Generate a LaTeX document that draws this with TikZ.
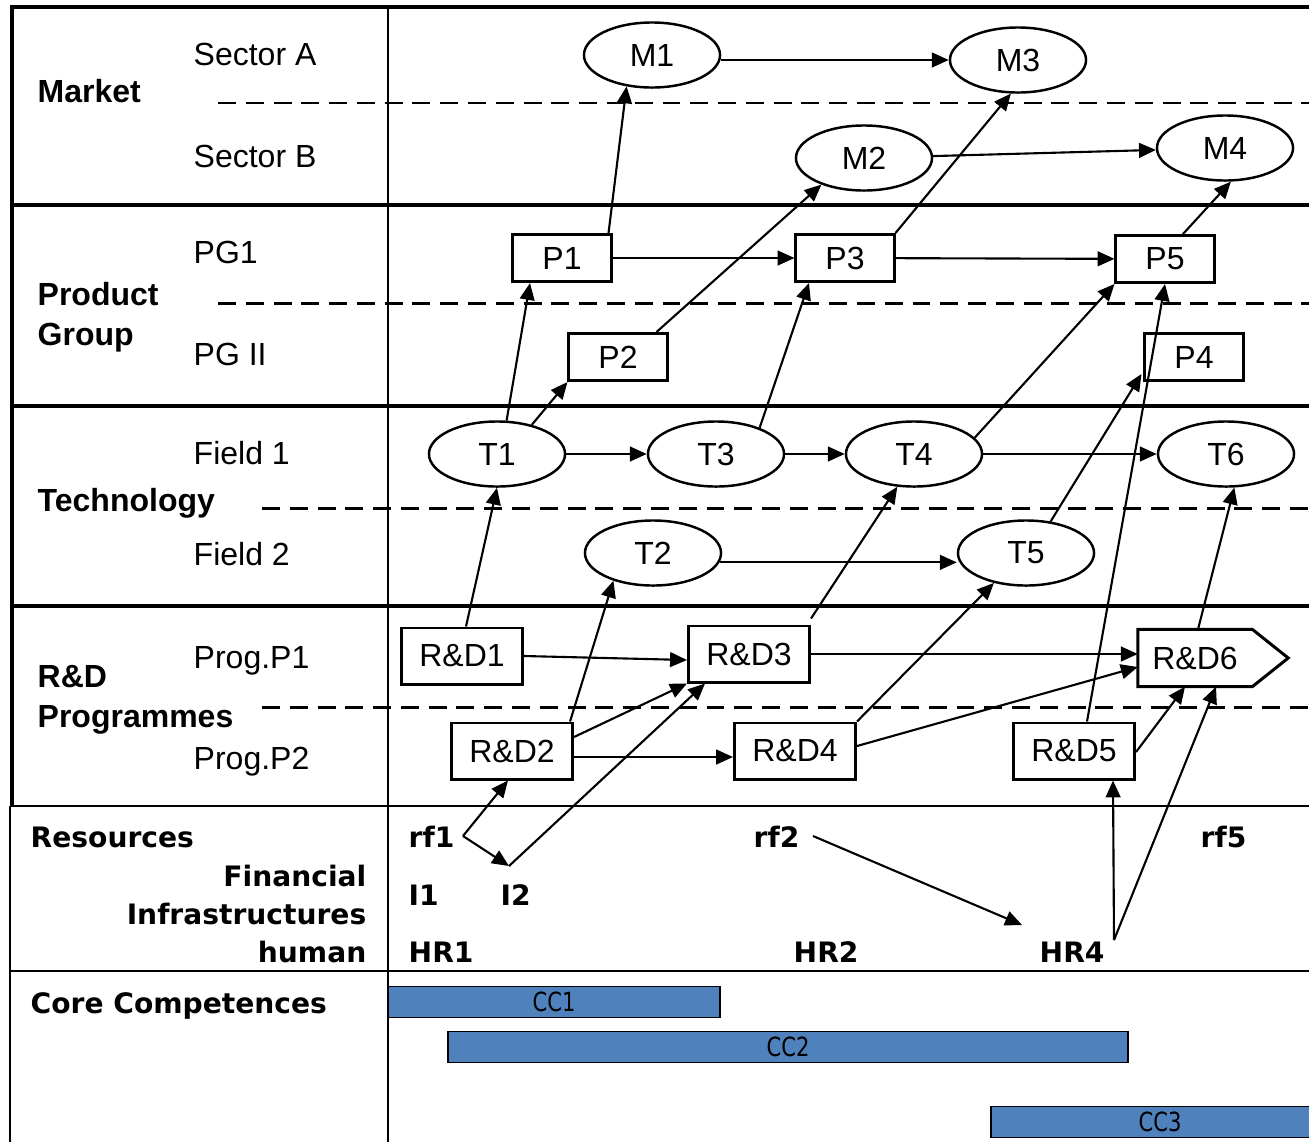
\documentclass[tikz,border=0pt]{standalone}
\usepackage{fontspec}
\setmainfont{Liberation Sans}
\newfontfamily\vfont{DejaVu Sans}
\newfontfamily\cfont[FakeStretch=0.8]{DejaVu Sans}
\usetikzlibrary{shapes.geometric,arrows.meta,calc}
\definecolor{ccblue}{HTML}{4F81BD}
\tikzset{
  nfont/.style={font=\fontsize{9.1}{11}\selectfont},
  ell/.style={ellipse, draw, line width=0.7pt, minimum width=1.36cm, minimum height=0.65cm, inner sep=0pt, nfont},
  pbox/.style={rectangle, draw, line width=0.85pt, minimum width=0.98cm, minimum height=0.47cm, inner sep=0pt, nfont},
  rdbox/.style={pbox, minimum width=1.21cm, minimum height=0.56cm},
  arr/.style={-{Triangle[length=4.8pt,width=4.2pt]}, line width=0.6pt},
  thickline/.style={line width=1.15pt},
  thinline/.style={line width=0.6pt},
  dashln/.style={line width=0.85pt, dash pattern=on 5.1pt off 2.8pt},
  lab/.style={anchor=base west, inner sep=0pt, nfont},
  blab/.style={anchor=base west, inner sep=0pt, font=\fontsize{9.1}{11}\selectfont\bfseries},
  vlab/.style={anchor=base west, inner sep=0pt, font=\vfont\bfseries\fontsize{8}{10}\selectfont},
  ccbar/.style={draw, line width=0.5pt, fill=ccblue, minimum height=0.31cm, inner sep=0pt, font=\cfont\fontsize{7.5}{9}\selectfont}
}
\begin{document}
\begin{tikzpicture}[x=0.01cm, y=-0.01cm]
\clip (0,0) rectangle (1309,1142);
% frame
\draw[thickline] (1309,7) -- (12,7) -- (12,806);
\foreach \yy in {205,406,606} \draw[thickline] (12,\yy) -- (1309,\yy);
\draw[thinline] (388,7) -- (388,1142);
\draw[thinline] (10,806) -- (1309,806);
\draw[thinline] (10,806) -- (10,1142);
\draw[thinline] (10,971) -- (1309,971);
\draw[dashln] (218,103) -- (1309,103);
\draw[dashln] (218,303) -- (1309,303);
\draw[dashln] (262,508) -- (1309,508);
\draw[dashln] (262,707) -- (1309,707);
% left labels
\node[blab] (lmarket) at (37,102) {Market};
\node[lab] (lsa) at (193,65) {Sector A};
\node[lab] (lsb) at (193,167) {Sector B};
\node[blab] (lprod) at (37,305) {Product};
\node[blab] (lgroup) at (37,345) {Group};
\node[lab] (lpg1) at (193,263) {PG1};
\node[lab] (lpg2) at (193,365) {PG II};
\node[blab] (ltech) at (37,511) {Technology};
\node[lab] (lf1) at (193,464) {Field 1};
\node[lab] (lf2) at (193,565) {Field 2};
\node[blab] (lrd) at (37,687) {R\&D};
\node[blab] (lprog) at (37,727) {Programmes};
\node[lab] (lp1) at (193,668) {Prog.P1};
\node[lab] (lp2) at (193,769) {Prog.P2};
\node[vlab] (lres) at (30,847) {Resources};
\node[vlab, anchor=base east] (lfin) at (367,886) {Financial};
\node[vlab, anchor=base east] (linf) at (367,924) {Infrastructures};
\node[vlab, anchor=base east] (lhum) at (367,962) {human};
\node[vlab] (lcc) at (30,1013) {Core Competences};
% market
\node[ell] (m1) at (652,55) {M1};
\node[ell] (m3) at (1018,60) {M3};
\node[ell] (m2) at (864,158) {M2};
\node[ell] (m4) at (1225,148) {M4};
% products
\node[pbox] (p1) at (562,258) {P1};
\node[pbox] (p3) at (845,258) {P3};
\node[pbox] (p5) at (1165,259) {P5};
\node[pbox] (p2) at (618,357) {P2};
\node[pbox] (p4) at (1194,357) {P4};
% technology
\node[ell] (t1) at (497,454) {T1};
\node[ell] (t3) at (716,454) {T3};
\node[ell] (t4) at (914,454) {T4};
\node[ell] (t6) at (1226,454) {T6};
\node[ell] (t2) at (653,553) {T2};
\node[ell] (t5) at (1026,553) {T5};
% R&D
\node[rdbox] (rd1) at (462,656) {R\&D1};
\node[rdbox] (rd3) at (749,654) {R\&D3};
\node[rdbox] (rd2) at (512,751) {R\&D2};
\node[rdbox] (rd4) at (795,751) {R\&D4};
\node[rdbox] (rd5) at (1074,751) {R\&D5};
\node[nfont, minimum width=1.13cm, minimum height=0.56cm, inner sep=0pt] (rd6) at (1195,658) {R\&D6};
\draw[line width=0.85pt] (rd6.north west) -- (rd6.north east) -- ($(rd6.east)+(36,0)$) -- (rd6.south east) -- (rd6.south west) -- cycle;
% resources
\node[vlab] (rf1) at (408,847) {rf1};
\node[vlab] (rf2) at (753,847) {rf2};
\node[vlab] (rf5) at (1200,847) {rf5};
\node[vlab] (i1) at (408,905) {I1};
\node[vlab] (i2) at (500,905) {I2};
\node[vlab] (hr1) at (408,962) {HR1};
\node[vlab] (hr2) at (793,962) {HR2};
\node[vlab] (hr4) at (1039,962) {HR4};
\coordinate (rfa) at (463,836);
\coordinate (i2a) at (509,866);
\coordinate (rf2a) at (813,836);
\coordinate (hr4a) at (1022,925);
\coordinate (hr4b) at (1114,940);
% core competences
\node[ccbar, minimum width=3.32cm] (cc1) at (554,1002) {CC1};
\node[ccbar, minimum width=6.80cm] (cc2) at (788,1047) {CC2};
\node[ccbar, minimum width=3.38cm] (cc3) at (1160,1122) {CC3};
% connectors
\draw[arr] (m3.west -| m1.east) -- (m3.west);
\draw[arr] (m2) -- (m4);
\draw[arr] ($(p1.north east)+(-4,0)$) -- (m1.-129);
\draw[arr] ($(p2.north east)+(-12,0)$) -- (m2.-148);
\draw[arr] (p3.north east) -- (m3.-102);
\draw[arr] ($(p5.north)+(18,0)$) -- (m4.-80);
\draw[arr] (p1) -- (p3);
\draw[arr] (p3) -- (p5);
\draw[arr] (t1.74) -- ($(p1.south)+(-32,0)$);
\draw[arr] (t1.40) -- (p2.south west);
\draw[arr] (t3.31) -- ($(p3.south)+(-36,0)$);
\draw[arr] (t4.15) -- (p5.south west);
\draw[arr] (t5.52) -- ($(p4.south west)+(-2,-8)$);
\draw[arr] (t1) -- (t3);
\draw[arr] (t3) -- (t4);
\draw[arr] (t4) -- (t6);
\draw[arr] (t2.-8) -- (t2.-8 -| t5.west);
\draw[arr] ($(rd1.north)+(4,0)$) -- (t1.south);
\draw[arr] ($(rd2.north east)+(-4,0)$) -- (t2.-145);
\draw[arr] ($(rd3.north east)+(0,-6)$) -- (t4.-117);
\draw[arr] (rd4.north east) -- (t5.-137);
\draw[arr] ($(rd5.north)+(13,0)$) -- (p5.south);
\draw[arr] ($(rd6.north)+(3,0)$) -- (t6.-76);
\draw[arr] (rd1.east) -- ($(rd3.west)+(0,6)$);
\draw[arr] ($(rd2.east)+(0,-14)$) -- (rd3.south west);
\draw[arr] ($(rd2.east)+(0,6)$) -- ($(rd4.west)+(0,6)$);
\draw[arr] (rd3.east) -- (rd3.east -| rd6.west);
\draw[arr] ($(rd4.east)+(0,-5)$) -- ($(rd6.west)+(0,9)$);
\draw[arr] ($(rd5.east)+(0,1)$) -- ($(rd6.south)+(-10,0)$);
\draw[arr] (rfa) -- ($(rd2.south)+(-4,0)$);
\draw[arr] (rfa) -- (i2a);
\draw[arr] (i2a) -- ($(rd3.south)+(-44,0)$);
\draw[arr] (rf2a) -- (hr4a);
\draw[arr] (hr4b) -- ($(rd5.south)+(39,0)$);
\draw[arr] (hr4b) -- ($(rd6.south)+(21,0)$);
\end{tikzpicture}
\end{document}
